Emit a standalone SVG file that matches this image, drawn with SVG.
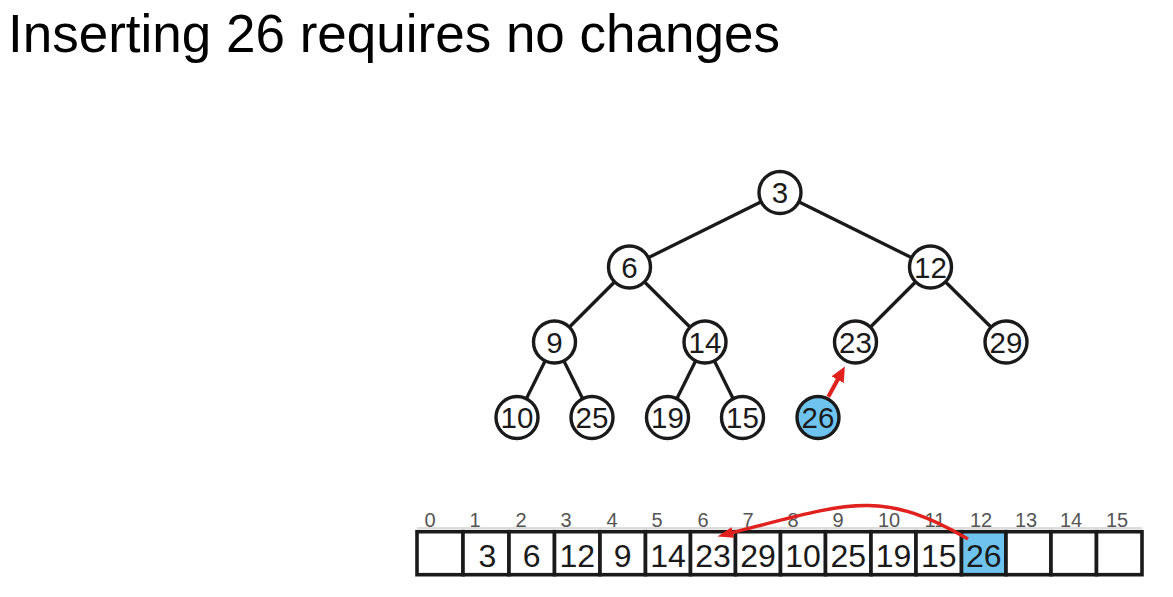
<svg xmlns="http://www.w3.org/2000/svg" width="1173" height="597" viewBox="0 0 1173 597">
<style>
.title{font-family:"Liberation Sans",Arial,sans-serif;font-size:53px;fill:#000}
.node circle{fill:#fff;stroke:#1a1a1a;stroke-width:3.4}
.node.hl circle{fill:#6EC4EE}
.node text{font-family:"Liberation Sans",Arial,sans-serif;font-size:29.5px;fill:#1a1a1a;text-anchor:middle}
.edge{stroke:#1a1a1a;stroke-width:3.3;fill:none}
.cell rect{fill:#fff;stroke:#1a1a1a;stroke-width:3.6}
.cell.hl rect{fill:#6EC4EE}
.cell text.v{font-family:"Liberation Sans",Arial,sans-serif;font-size:32px;fill:#1a1a1a;text-anchor:middle}
.cell text.i{font-family:"Liberation Sans",Arial,sans-serif;font-size:20px;fill:#555;text-anchor:middle}
.red{stroke:#E0211D;fill:none}
</style>
<defs>
<marker id="ah1" markerUnits="userSpaceOnUse" markerWidth="16" markerHeight="14" refX="2" refY="7" orient="auto">
<path d="M0,0 L15,7 L0,14 z" fill="#E0211D"/>
</marker>
<marker id="ah2" markerUnits="userSpaceOnUse" markerWidth="17" markerHeight="12" refX="2" refY="5.5" orient="auto">
<path d="M0,0 L16,5.5 L0,11 z" fill="#E0211D"/>
</marker>
</defs>
<rect width="1173" height="597" fill="#fff"/>
<text class="title" x="8" y="52">Inserting 26 requires no changes</text>

<g id="connectors">
<line class="edge" x1="780" y1="192.5" x2="629.5" y2="267"/>
<line class="edge" x1="780" y1="192.5" x2="930.5" y2="267"/>
<line class="edge" x1="629.5" y1="267" x2="554.5" y2="342"/>
<line class="edge" x1="629.5" y1="267" x2="705" y2="342"/>
<line class="edge" x1="930.5" y1="267" x2="855.5" y2="342"/>
<line class="edge" x1="930.5" y1="267" x2="1006" y2="342"/>
<line class="edge" x1="554.5" y1="342" x2="517" y2="417.5"/>
<line class="edge" x1="554.5" y1="342" x2="592" y2="417.5"/>
<line class="edge" x1="705" y1="342" x2="667.5" y2="417.5"/>
<line class="edge" x1="705" y1="342" x2="742.5" y2="417.5"/>
</g>

<g id="n3" class="node"><circle cx="780" cy="192.5" r="21"/><text x="780" y="203">3</text></g>
<g id="n6" class="node"><circle cx="629.5" cy="267" r="21"/><text x="629.5" y="277.5">6</text></g>
<g id="n12" class="node"><circle cx="930.5" cy="267" r="21"/><text x="930.5" y="277.5">12</text></g>
<g id="n9" class="node"><circle cx="554.5" cy="342" r="21"/><text x="554.5" y="352.5">9</text></g>
<g id="n14" class="node"><circle cx="705" cy="342" r="21"/><text x="705" y="352.5">14</text></g>
<g id="n23" class="node"><circle cx="855.5" cy="342" r="21"/><text x="855.5" y="352.5">23</text></g>
<g id="n29" class="node"><circle cx="1006" cy="342" r="21"/><text x="1006" y="352.5">29</text></g>
<g id="n10" class="node"><circle cx="517" cy="417.5" r="21"/><text x="517" y="428">10</text></g>
<g id="n25" class="node"><circle cx="592" cy="417.5" r="21"/><text x="592" y="428">25</text></g>
<g id="n19" class="node"><circle cx="667.5" cy="417.5" r="21"/><text x="667.5" y="428">19</text></g>
<g id="n15" class="node"><circle cx="742.5" cy="417.5" r="21"/><text x="742.5" y="428">15</text></g>
<g id="n26" class="node hl"><circle cx="818" cy="417.5" r="21"/><text x="818" y="428">26</text></g>

<g id="array">
<line x1="417" y1="528" x2="1142" y2="528" stroke="#bbb" stroke-width="1"/>
<g id="c0" class="cell"><rect x="417" y="531.7" width="46" height="43"/><text class="i" x="430" y="527">0</text></g>
<g id="c1" class="cell"><rect x="463" y="531.7" width="46" height="43"/><text class="i" x="475" y="527">1</text><text class="v" x="487.5" y="566.5">3</text></g>
<g id="c2" class="cell"><rect x="509" y="531.7" width="45.5" height="43"/><text class="i" x="521" y="527">2</text><text class="v" x="531.75" y="566.5">6</text></g>
<g id="c3" class="cell"><rect x="554.5" y="531.7" width="45.5" height="43"/><text class="i" x="566" y="527">3</text><text class="v" x="577.25" y="566.5">12</text></g>
<g id="c4" class="cell"><rect x="600" y="531.7" width="45.5" height="43"/><text class="i" x="612" y="527">4</text><text class="v" x="622.75" y="566.5">9</text></g>
<g id="c5" class="cell"><rect x="645.5" y="531.7" width="45" height="43"/><text class="i" x="657" y="527">5</text><text class="v" x="668" y="566.5">14</text></g>
<g id="c6" class="cell"><rect x="690.5" y="531.7" width="45" height="43"/><text class="i" x="703" y="527">6</text><text class="v" x="713" y="566.5">23</text></g>
<g id="c7" class="cell"><rect x="735.5" y="531.7" width="45" height="43"/><text class="i" x="748" y="527">7</text><text class="v" x="758" y="566.5">29</text></g>
<g id="c8" class="cell"><rect x="780.5" y="531.7" width="45" height="43"/><text class="i" x="793" y="527">8</text><text class="v" x="803" y="566.5">10</text></g>
<g id="c9" class="cell"><rect x="825.5" y="531.7" width="45.5" height="43"/><text class="i" x="838" y="527">9</text><text class="v" x="848.25" y="566.5">25</text></g>
<g id="c10" class="cell"><rect x="871" y="531.7" width="45" height="43"/><text class="i" x="889" y="527">10</text><text class="v" x="893.5" y="566.5">19</text></g>
<g id="c11" class="cell"><rect x="916" y="531.7" width="45.5" height="43"/><text class="i" x="935" y="527">11</text><text class="v" x="938.75" y="566.5">15</text></g>
<g id="c12" class="cell hl"><rect x="961.5" y="531.7" width="44.5" height="43"/><text class="i" x="981" y="527">12</text><text class="v" x="983.75" y="566.5">26</text></g>
<g id="c13" class="cell"><rect x="1006" y="531.7" width="45" height="43"/><text class="i" x="1026" y="527">13</text></g>
<g id="c14" class="cell"><rect x="1051" y="531.7" width="45.5" height="43"/><text class="i" x="1071" y="527">14</text></g>
<g id="c15" class="cell"><rect x="1096.5" y="531.7" width="45.5" height="43"/><text class="i" x="1117" y="527">15</text></g>
</g>

<g id="red-arrows">
<line class="red" stroke-width="4" x1="828.3" y1="396.7" x2="838.6" y2="378" marker-end="url(#ah1)"/>
<path class="red" stroke-width="3.4" d="M968,539 C880,488 848,503 731,533" marker-end="url(#ah2)"/>
</g>
</svg>
